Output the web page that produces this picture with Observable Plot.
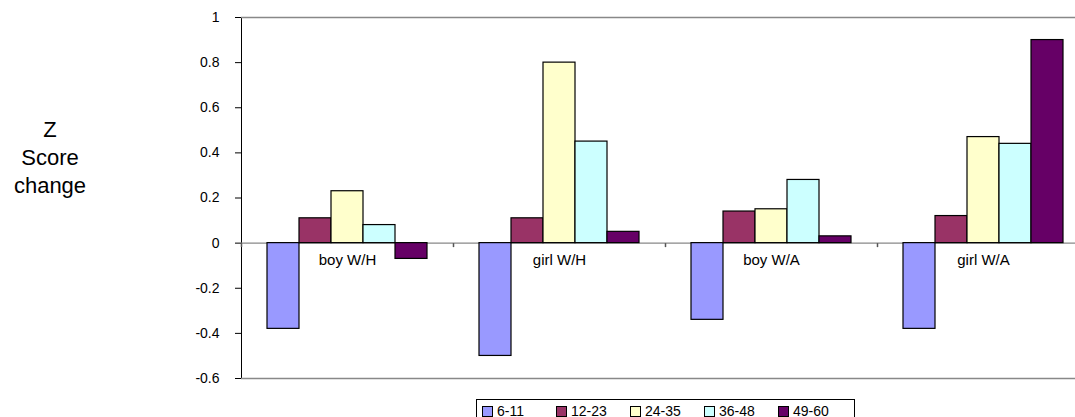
<!DOCTYPE html>
<html>
<head>
<meta charset="utf-8">
<script src="https://cdn.jsdelivr.net/npm/d3@7"></script>
<script src="https://cdn.jsdelivr.net/npm/@observablehq/plot@0.6"></script>
<style>
  html, body { margin: 0; padding: 0; background: #fff; overflow: hidden; }
  body { width: 1075px; height: 417px; position: relative; font-family: "Liberation Sans", Arial, sans-serif; }
  #chart svg { overflow: hidden; max-width: none; }
  #ytitle { position: absolute; left: 0; width: 100px; top: 116px; text-align: center;
            font-size: 22px; line-height: 28px; color: #000; }
  #legend { position: absolute; left: 476px; top: 399px; border: 1px solid #000; background: #fff;
            display: flex; padding: 3px 2px 6px 5px; font-size: 14px; line-height: 16px; }
  #legend .item { width: 74px; display: flex; align-items: center; }
  #legend .sw { width: 9px; height: 9px; border: 1px solid #000; margin-right: 4px; }
</style>
</head>
<body>
<div id="chart"></div>
<div id="ytitle">Z<br>Score<br>change</div>
<div id="legend"></div>
<script>
const categories = ["boy W/H", "girl W/H", "boy W/A", "girl W/A"];
const ageGroups = ["6-11", "12-23", "24-35", "36-48", "49-60"];
const boyWH  = [-0.38, 0.11, 0.23, 0.08, -0.07];
const girlWH = [-0.50, 0.11, 0.80, 0.45, 0.05];
const boyWA  = [-0.34, 0.14, 0.15, 0.28, 0.03];
const girlWA = [-0.38, 0.12, 0.47, 0.44, 0.90];
const yTicks = [-0.6, -0.4, -0.2, 0, 0.2, 0.4, 0.6, 0.8, 1];
const colors = ["#9999FF", "#993366", "#FFFFCC", "#CCFFFF", "#660066"];

const series = [boyWH, girlWH, boyWA, girlWA];
const data = [];
categories.forEach((c, i) => ageGroups.forEach((a, j) => data.push({cat: c, age: a, value: series[i][j]})));

const yMin = yTicks[0], yMax = yTicks[yTicks.length - 1];

// small downward tick symbol at category boundaries on the zero line
const tickDown = { draw(ctx, size) { ctx.moveTo(0, 0); ctx.lineTo(0, 4); } };

const chart = Plot.plot({
  width: 1075,
  height: 392,
  marginTop: 17,
  marginBottom: 14,
  marginLeft: 241,
  marginRight: -14,
  style: { fontFamily: "'Liberation Sans', Arial, sans-serif", fontSize: "14px", background: "#fff", overflow: "hidden" },
  fx: { domain: categories, padding: 0, axis: null },
  x: { domain: ageGroups, paddingInner: 0, paddingOuter: 0.76, axis: null },
  y: { domain: [yMin, yMax], ticks: yTicks, tickFormat: d => String(Math.round(d * 10) / 10),
       tickSize: 6, tickPadding: 16, line: true, label: null },
  color: { domain: ageGroups, range: colors },
  marks: [
    Plot.ruleY([yMax, yMin], { stroke: "#888", strokeWidth: 1.3 }),
    Plot.ruleY([0], { stroke: "#888", strokeWidth: 1.3 }),
    Plot.dot(categories, { fx: d => d, y: d => 0, frameAnchor: "left", symbol: tickDown, stroke: "#555", r: 3 }),
    Plot.barY(data, { fx: "cat", x: "age", y: "value", fill: "age", stroke: "#000", strokeWidth: 1.2 }),
    Plot.text(categories, { fx: d => d, y: d => 0, text: d => d, dy: 17, fontSize: 15, fill: "#000" })
  ]
});
document.getElementById("chart").appendChild(chart);

const legend = document.getElementById("legend");
ageGroups.forEach((a, i) => {
  const item = document.createElement("div");
  item.className = "item";
  const sw = document.createElement("span");
  sw.className = "sw";
  sw.style.background = colors[i];
  const t = document.createElement("span");
  t.textContent = a;
  item.appendChild(sw);
  item.appendChild(t);
  legend.appendChild(item);
});
</script>
</body>
</html>
